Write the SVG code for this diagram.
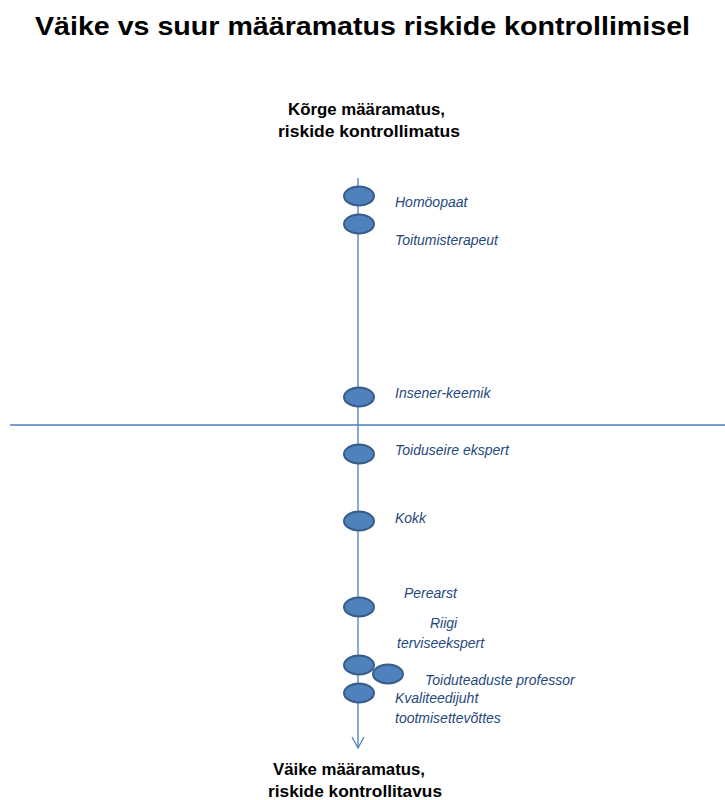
<svg xmlns="http://www.w3.org/2000/svg" width="725" height="800" viewBox="0 0 725 800">
<style>
.title{font-family:"Liberation Sans",Arial,sans-serif;font-weight:bold;fill:#000}
.head{font-family:"Liberation Sans",Arial,sans-serif;font-weight:bold;font-size:16px;fill:#000}
.lbl{font-family:"Liberation Sans",Arial,sans-serif;font-style:italic;font-size:14px;fill:#1f497d}
.dot{fill:#4f81bd;stroke:#385d8a;stroke-width:2}
.ln{stroke:#4a7ebb;stroke-width:1.3;fill:none}
</style>
<defs>
<marker id="arr" markerWidth="14" markerHeight="14" refX="12" refY="7" orient="auto" markerUnits="userSpaceOnUse">
<path d="M1,1 L12,7 L1,13" fill="none" stroke="#4a7ebb" stroke-width="1.3"/>
</marker>
</defs>
<rect width="725" height="800" fill="#fff"/>
<text class="title" x="35" y="35" font-size="26" textLength="655" lengthAdjust="spacingAndGlyphs">Väike vs suur määramatus riskide kontrollimisel</text>
<g id="top-label">
<text class="head" x="288" y="115" textLength="157" lengthAdjust="spacingAndGlyphs">Kõrge määramatus,</text>
<text class="head" x="278" y="137" textLength="182" lengthAdjust="spacingAndGlyphs">riskide kontrollimatus</text>
</g>
<g id="bottom-label">
<text class="head" x="273" y="775" textLength="152" lengthAdjust="spacingAndGlyphs">Väike määramatus,</text>
<text class="head" x="268" y="797" textLength="174" lengthAdjust="spacingAndGlyphs">riskide kontrollitavus</text>
</g>
<g id="connectors">
<line class="ln" x1="358" y1="178" x2="358" y2="748" marker-end="url(#arr)"/>
<line class="ln" x1="10" y1="425" x2="725" y2="425"/>
</g>
<g id="homoopaat"><ellipse class="dot" cx="359" cy="196" rx="15" ry="9.5"/><text class="lbl" x="395" y="207">Homöopaat</text></g>
<g id="toitumisterapeut"><ellipse class="dot" cx="359" cy="224" rx="15" ry="9.5"/><text class="lbl" x="395" y="245">Toitumisterapeut</text></g>
<g id="insener-keemik"><ellipse class="dot" cx="359" cy="397" rx="15" ry="9.5"/><text class="lbl" x="395" y="398">Insener-keemik</text></g>
<g id="toiduseire-ekspert"><ellipse class="dot" cx="359" cy="454" rx="15" ry="9.5"/><text class="lbl" x="395" y="455">Toiduseire ekspert</text></g>
<g id="kokk"><ellipse class="dot" cx="359" cy="521" rx="15" ry="9.5"/><text class="lbl" x="395" y="523">Kokk</text></g>
<g id="perearst"><ellipse class="dot" cx="359" cy="607" rx="15" ry="9.5"/><text class="lbl" x="404" y="598">Perearst</text></g>
<g id="riigi-terviseekspert"><ellipse class="dot" cx="359" cy="665" rx="15" ry="9.5"/><text class="lbl" x="430" y="628">Riigi</text><text class="lbl" x="397" y="648">terviseekspert</text></g>
<g id="toiduteaduste-professor"><ellipse class="dot" cx="388" cy="674" rx="15" ry="9.5"/><text class="lbl" x="425" y="685">Toiduteaduste professor</text></g>
<g id="kvaliteedijuht"><ellipse class="dot" cx="359" cy="693" rx="15" ry="9.5"/><text class="lbl" x="395" y="703">Kvaliteedijuht</text><text class="lbl" x="395" y="723">tootmisettevõttes</text></g>
</svg>
